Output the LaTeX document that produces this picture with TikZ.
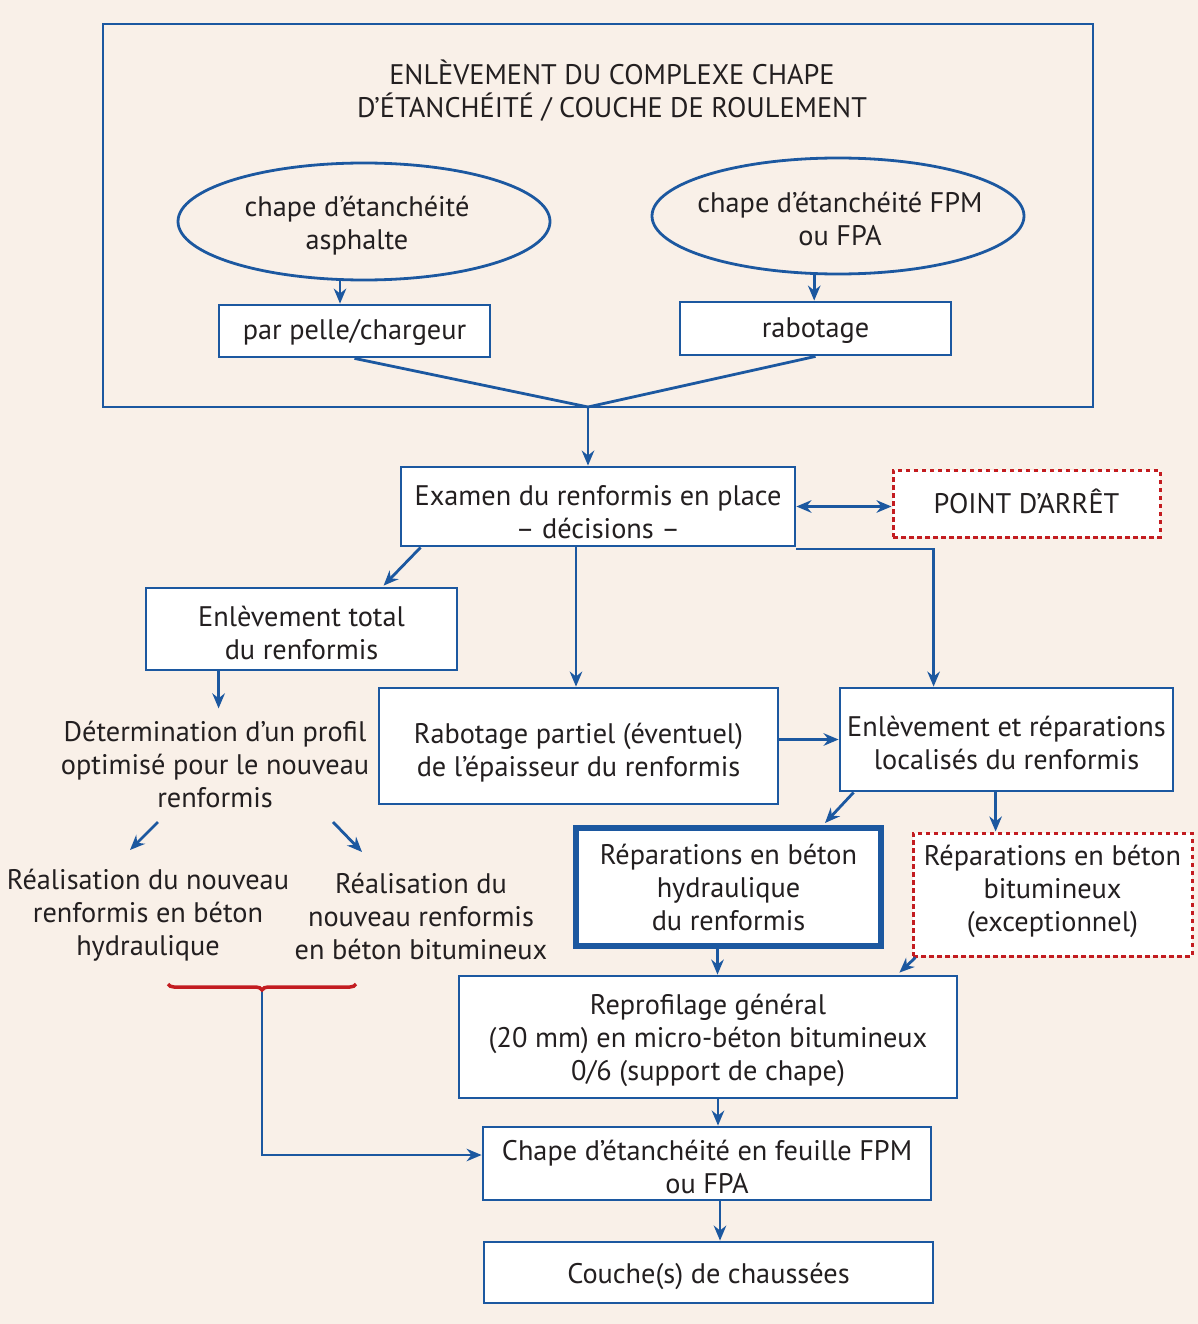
\documentclass[tikz,border=0pt]{standalone}
\usepackage{fontspec}
\setmainfont{PT Sans}
\usetikzlibrary{arrows.meta,shapes.geometric,decorations.pathreplacing,calc}
\definecolor{bg}{RGB}{249,240,232}
\definecolor{bl}{RGB}{28,88,160}
\definecolor{rd}{RGB}{195,28,32}
\definecolor{tx}{RGB}{35,31,32}
\begin{document}
\begin{tikzpicture}[x=1pt,y=-1pt,
  every node/.style={font=\fontsize{28.3}{33}\selectfont, align=center, text=tx, inner sep=0pt},
  box/.style={draw=bl, line width=2.8pt, fill=white},
  thickbox/.style={draw=bl, line width=6pt, fill=white},
  redbox/.style={draw=rd, line width=3pt, fill=white, dash pattern=on 4.5pt off 3.5pt},
  oval/.style={ellipse, draw=bl, line width=2.8pt},
  ln/.style={draw=bl, line width=2.8pt},
  arr/.style={ln, -{Stealth[length=15pt,width=12.5pt]}},
  arrb/.style={ln, {Stealth[length=15pt,width=12.5pt]}-{Stealth[length=15pt,width=12.5pt]}}
]
\fill[bg] (0,0) rectangle (1198,1324);
\useasboundingbox (0,0) rectangle (1198,1324);

% outer frame
\node[draw=bl, line width=2.8pt, minimum width=990pt, minimum height=383pt] (outer) at (598,215.5) {};
\node (title) at (612,90.5) {ENLÈVEMENT DU COMPLEXE CHAPE\\D'ÉTANCHÉITÉ / COUCHE DE ROULEMENT};

\node[oval, minimum width=372pt, minimum height=117pt] (e1) at (364,221.5) {};
\node (e1T) at (357,225.5) {chape d'étanchéité\\asphalte};
\node[oval, minimum width=372pt, minimum height=116pt] (e2) at (838,216) {};
\node (e2T) at (840,218.5) {chape d'étanchéité FPM\\ou FPA};

\node[box, minimum width=271pt, minimum height=52pt] (pelle) at (354.5,331) {};
\node (pelleT) at (354.5,332) {par pelle/chargeur};
\node[box, minimum width=271pt, minimum height=53pt] (rab) at (815.5,328.5) {};
\node (rabT) at (815.5,330.5) {rabotage};

\coordinate (m) at (588,407);

% main boxes
\node[box, minimum width=394pt, minimum height=79pt] (exam) at (598,506.5) {};
\node (examT) at (598,512) {Examen du renformis en place\\– décisions –};
\node[redbox, minimum width=267pt, minimum height=67pt] (point) at (1026.5,503.5) {};
\node (pointT) at (1026.5,501.5) {POINT D'ARRÊT};
\node[box, minimum width=311pt, minimum height=82pt] (enltot) at (301.5,629) {};
\node (enltotT) at (301.5,632.5) {Enlèvement total\\du renformis};
\node[box, minimum width=399pt, minimum height=116pt] (rabp) at (578.5,746) {};
\node (rabpT) at (578.5,752.5) {Rabotage partiel (éventuel)\\de l'épaisseur du renformis};
\node[box, minimum width=333pt, minimum height=103pt] (enlrep) at (1006.5,739.5) {};
\node (enlrepT) at (1006.5,742.5) {Enlèvement et réparations\\localisés du renformis};

\node (det) at (215,764) {Détermination d'un profil\\optimisé pour le nouveau\\renformis};
\node (r1) at (148,915.5) {Réalisation du nouveau\\renformis en béton\\hydraulique};
\node (r2) at (421,916.5) {Réalisation du\\nouveau renformis\\en béton bitumineux};

\node[thickbox, minimum width=305pt, minimum height=118pt] (rhyd) at (728.5,887) {};
\node (rhydT) at (728.5,887) {Réparations en béton\\hydraulique\\du renformis};
\node[redbox, minimum width=279pt, minimum height=123pt] (rbit) at (1052.5,894.5) {};
\node (rbitT) at (1052.5,891.5) {Réparations en béton\\bitumineux\\(exceptionnel)};

\node[box, minimum width=498pt, minimum height=122pt] (reprof) at (708,1037) {};
\node (reprofT) at (708,1040) {Reprofilage général\\(20 mm) en micro-béton bitumineux\\0/6 (support de chape)};
\node[box, minimum width=448pt, minimum height=73pt] (chape) at (707,1163.5) {};
\node (chapeT) at (707,1167) {Chape d'étanchéité en feuille FPM\\ou FPA};
\node[box, minimum width=449pt, minimum height=61pt] (couche) at (708.5,1272.5) {};
\node (coucheT) at (708.5,1276.5) {Couche(s) de chaussées};

% helper points on node borders
\coordinate (p1) at ($(exam.south)+(-22,0)$);
\coordinate (p2) at ($(exam.south east)+(0,1.5)$);
\coordinate (p3) at ($(enlrep.north west)+(95,0)$);
\coordinate (p4) at ($(enltot.south west)+(74,0)$);
\coordinate (p5) at ($(enlrep.south west)+(157,0)$);
\coordinate (p6) at ($(rhyd.south)+(-11,0)$);
\coordinate (p7) at ($(reprof.south)+(10,0)$);
\coordinate (p8) at ($(chape.south)+(13,0)$);
\coordinate (p9) at ($(chape.west)+(0,-8.5)$);

% connectors, top part
\draw[arr] (e1.248) -- (e1.248 |- pelle.north);
\draw[arr] (e2.248) -- (e2.248 |- rab.north);
\draw[ln] (pelle.south) -- (m);
\draw[ln] (rab.south) -- (m);
\draw[arr] (m) -- (m |- exam.north);
\draw[arrb] (exam.east) -- (exam.east -| point.west);

% from exam
\draw[arr] ($(exam.south west)+(21,0)$) -- ($(enltot.north west)+(239,-1)$);
\draw[arr] (p1) -- (p1 |- rabp.north);
\draw[arr] (p2) -| (p3);
\draw[arr] (rabp.east |- enlrep.west) -- (enlrep.west);

% left branch
\draw[arr] (p4) -- ($(p4)+(0,37)$);
\coordinate (a1s) at (158,822);
\coordinate (a1e) at (130,850);
\coordinate (a2s) at (333,822);
\coordinate (a2e) at (362,852);
\draw[arr] (a1s) -- (a1e);
\draw[arr] (a2s) -- (a2e);

% brace
\coordinate (bt) at (262,990);
\draw[arr] (bt) |- (p9);
\draw[draw=rd, line width=3.5pt, decorate, decoration={brace, mirror, amplitude=6pt, aspect=0.5}] (168,984) -- (356,984);

% right branch
\draw[arr] ($(enlrep.south west)+(15,0)$) -- ($(rhyd.north east)+(-59,-2)$);
\draw[arr] (p5) -- (p5 |- rbit.north);
\draw[arr] (p6) -- (p6 |- reprof.north);
\draw[arr] ($(rbit.south west)+(4,0)$) -- ($(reprof.north east)+(-59,-2)$);
\draw[arr] (p7) -- (p7 |- chape.north);
\draw[arr] (p8) -- (p8 |- couche.north);
\end{tikzpicture}
\end{document}
